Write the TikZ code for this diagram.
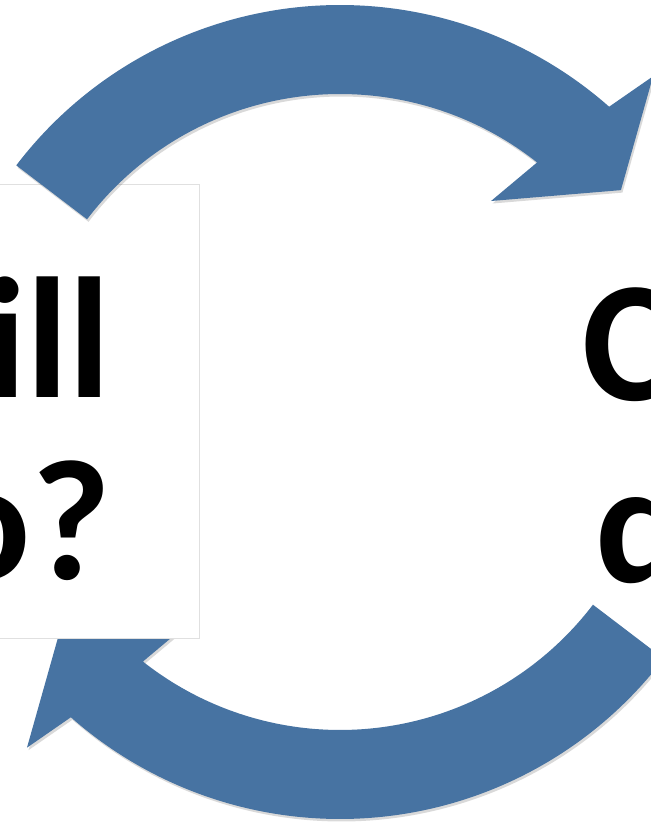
\documentclass[tikz,border=0pt]{standalone}
\usepackage{fontspec}
\setmainfont{Carlito}
\usetikzlibrary{positioning}
\definecolor{cycblue}{RGB}{71,115,162}

\begin{document}
\begin{tikzpicture}[x=1pt, y=1pt,
    cycarrow/.style={fill=cycblue, preaction={fill=black, opacity=0.15, transform canvas={shift={(1.5pt,-2.5pt)}}}},
    box/.style={draw=black!12, fill=white, line width=0.8pt, inner sep=0pt},
    big/.style={font=\fontsize{172}{182}\selectfont\bfseries, inner sep=0pt}]
  \useasboundingbox (0,0) rectangle (651,823);
  \clip (0,0) rectangle (651,823);
  % centre of the cycle
  \coordinate (c) at (340,411);
  % lower arrow, going back to the left
  \fill[cycarrow, shift={(c)}] (322.7:407) arc[start angle=322.7, end angle=228.6, radius=407]
    -- (227:459) -- (218.3:358) -- (234.4:259.5) -- (231.7:318)
    arc[start angle=231.7, end angle=322.7, radius=318] -- cycle;
  \node[box, minimum width=260pt, minimum height=454pt, anchor=north east] (whatbox) at (200,639) {};
  \node[big, align=right, anchor=base east] (what) at (111,243) {What will\\I do?};
  \node[big, align=center, anchor=base west] (can) at (582,240) {Can I\\do it};
  % upper arrow, over the box
  \fill[cycarrow, shift={(c)}] (142.7:407) arc[start angle=142.7, end angle=48.6, radius=407]
    -- (47:459) -- (38.3:358) -- (54.4:259.5) -- (51.7:318)
    arc[start angle=51.7, end angle=142.7, radius=318] -- cycle;
\end{tikzpicture}
\end{document}
